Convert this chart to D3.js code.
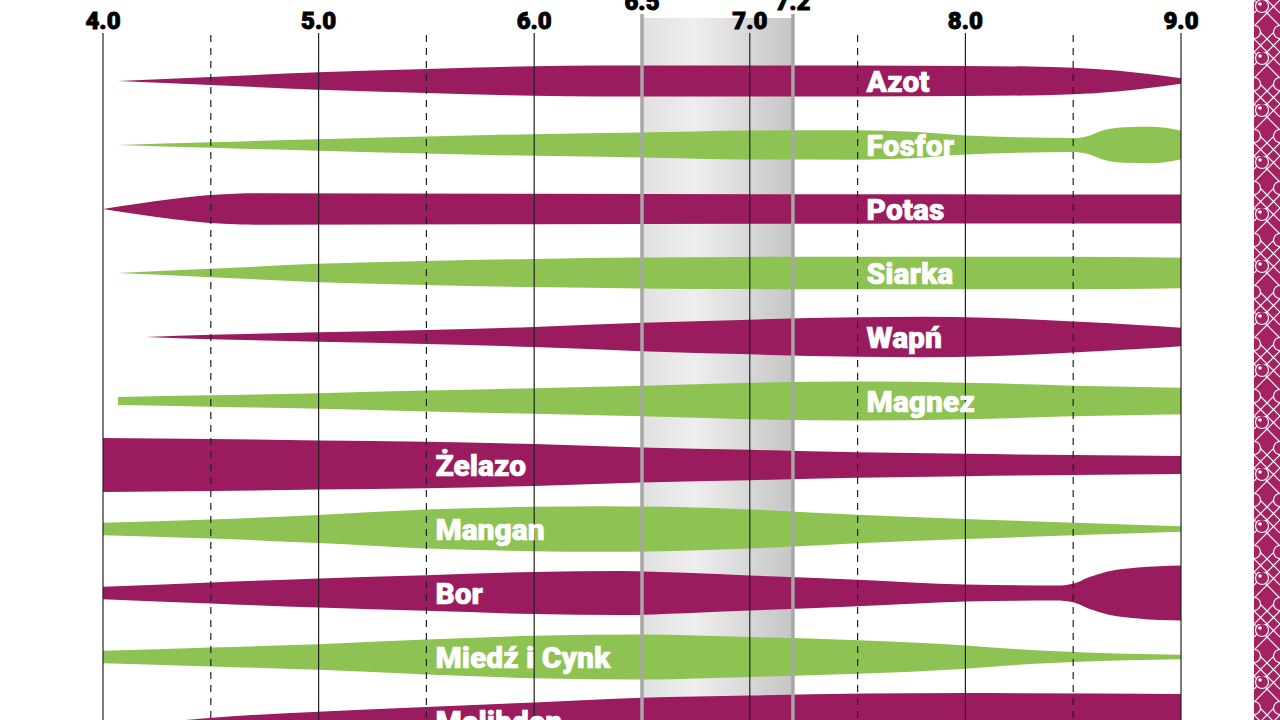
<!DOCTYPE html>
<html>
<head>
<meta charset="utf-8">
<script src="https://cdn.jsdelivr.net/npm/d3@7"></script>
<style>
  body { margin: 0; background: #fff; overflow: hidden; }
  text { font-family: Roboto, "Open Sans", sans-serif; font-weight: 900; }
</style>
</head>
<body>
<div id="chart"></div>
<script>
/* CONSTANTS AND GLOBALS */
const width = 1280,
  height = 720,
  purple = "#9a1c5e",
  green = "#8ec252";

/* DATA */
// pH ticks along the top
const phTicks = [4, 5, 6, 7, 8, 9];
const phHalfTicks = [4.5, 5.5, 7.5, 8.5];
const optimumRange = [6.5, 7.2];

const nutrients = ["Azot", "Fosfor", "Potas", "Siarka", "Wapń", "Magnez",
  "Żelazo", "Mangan", "Bor", "Miedź i Cynk", "Molibden"];
// where each label sits (pH)
const labelAt = [7.5, 7.5, 7.5, 7.5, 7.5, 7.5, 5.5, 5.5, 5.5, 5.5, 5.5];

// availability profiles: [pH, relative availability]
const azot = [[4.07, 0], [4.5, 0.26], [5.0, 0.56], [5.5, 0.77], [6.0, 0.95], [6.3, 1.0],
  [7.5, 1.0], [8.0, 0.97], [8.3, 0.93], [8.5, 0.86], [8.7, 0.68], [8.85, 0.45], [9.0, 0.18]];
const fosfor = [[4.07, 0], [4.5, 0.18], [5.0, 0.37], [5.5, 0.55], [6.0, 0.7], [6.5, 0.8],
  [7.0, 0.94], [7.5, 0.95], [7.75, 0.86], [8.0, 0.62], [8.25, 0.5], [8.5, 0.45],
  [8.56, 0.55], [8.64, 0.95], [8.74, 1.15], [8.87, 1.17], [8.96, 1.03], [9.0, 0.92]];
const potas = [[4.0, 0], [4.64, 1.0], [4.7, 1.01], [6.0, 0.98], [7.5, 0.95], [9.0, 0.93]];
const siarka = [[4.07, 0], [4.5, 0.27], [5.0, 0.59], [5.5, 0.77], [6.0, 0.91], [6.5, 1.0],
  [7.0, 1.04], [8.0, 1.05], [8.7, 1.03], [9.0, 0.98]];
const wapn = [[4.2, 0], [4.5, 0.14], [5.0, 0.3], [5.5, 0.45], [6.0, 0.65], [6.5, 0.92],
  [7.0, 1.12], [7.5, 1.27], [7.8, 1.3], [8.1, 1.24], [8.5, 1.0], [8.8, 0.78], [9.0, 0.6]];
const magnez = [[4.07, 0.26], [4.5, 0.37], [5.0, 0.5], [5.5, 0.67], [6.0, 0.83], [6.5, 0.98],
  [7.0, 1.17], [7.5, 1.26], [8.0, 1.18], [8.5, 0.99], [9.0, 0.86]];
const zelazo = [[4.0, 1.74], [4.5, 1.68], [5.0, 1.58], [5.5, 1.5], [6.0, 1.35], [6.5, 1.13],
  [7.0, 0.98], [7.5, 0.82], [8.0, 0.72], [8.5, 0.64], [9.0, 0.58]];
const mangan = [[4.0, 0.4], [4.5, 0.61], [5.0, 0.91], [5.5, 1.26], [6.0, 1.43], [6.3, 1.47],
  [6.6, 1.43], [7.0, 1.26], [7.5, 0.92], [8.0, 0.65], [8.5, 0.4], [9.0, 0.18]];
const bor = [[4.0, 0.4], [4.5, 0.68], [5.0, 0.94], [5.5, 1.15], [6.0, 1.36], [6.4, 1.42],
  [6.7, 1.3], [7.0, 1.13], [7.5, 0.86], [8.0, 0.55], [8.42, 0.48], [8.5, 0.6],
  [8.57, 1.0], [8.66, 1.38], [8.8, 1.64], [9.0, 1.78]];
const miedzCynk = [[4.0, 0.4], [4.5, 0.61], [5.0, 0.83], [5.5, 1.13], [6.0, 1.37], [6.5, 1.45],
  [7.0, 1.29], [7.5, 1.08], [8.0, 0.75], [8.3, 0.45], [8.5, 0.32], [9.0, 0.15]];
const molibden = [[4.33, 0], [4.6, 0.3], [5.0, 0.6], [5.5, 0.9], [6.0, 1.2], [6.5, 1.5],
  [7.0, 1.65], [8.0, 1.8], [9.0, 1.75]];

const profiles = [azot, fosfor, potas, siarka, wapn, magnez, zelazo, mangan, bor, miedzCynk, molibden];

/* SCALES */
const xScale = d3.scaleLinear().domain([4, 9]).range([103, 1181]);
const yScale = d3.scalePoint().domain(nutrients).range([81, 721]);
const wScale = d3.scaleLinear().domain([0, 1]).range([0, 15.5]);

const svg = d3.select("#chart")
  .append("svg")
  .attr("width", width)
  .attr("height", height);

const defs = svg.append("defs");

// gray optimum band gradient
const grad = defs.append("linearGradient").attr("id", "optGrad");
grad.append("stop").attr("offset", "0%").attr("stop-color", "#e0e0e0");
grad.append("stop").attr("offset", "35%").attr("stop-color", "#eeeeee");
grad.append("stop").attr("offset", "100%").attr("stop-color", "#c5c5c5");

// decorative lattice on the right edge
const pat = defs.append("pattern")
  .attr("id", "lattice")
  .attr("patternUnits", "userSpaceOnUse")
  .attr("x", 1254).attr("y", 0)
  .attr("width", 26).attr("height", 52);
pat.append("rect").attr("width", 26).attr("height", 52).attr("fill", "#a52262");
pat.append("path")
  .attr("d", "M0,0L26,26L0,52M26,0L0,26L26,52M13,0L26,13M0,13L13,0M0,39L13,52M26,39L13,52")
  .attr("stroke", "#fff").attr("stroke-width", 1.2).attr("fill", "none");
pat.append("circle").attr("cx", 8).attr("cy", 6).attr("r", 6.5)
  .attr("fill", "#a52262").attr("stroke", "#fff").attr("stroke-width", 1.2);
pat.append("circle").attr("cx", 6).attr("cy", 4).attr("r", 1.8).attr("fill", "#fff");
pat.append("circle").attr("cx", 26).attr("cy", 32).attr("r", 6.5)
  .attr("fill", "#a52262").attr("stroke", "#fff").attr("stroke-width", 1.2);
pat.append("circle").attr("cx", 0).attr("cy", 32).attr("r", 6.5)
  .attr("fill", "#a52262").attr("stroke", "#fff").attr("stroke-width", 1.2);

svg.append("rect")
  .attr("x", 1254).attr("y", 0)
  .attr("width", 26).attr("height", height)
  .attr("fill", "url(#lattice)");

// + OPTIMUM BAND (behind the shapes)
svg.append("rect")
  .attr("x", xScale(optimumRange[0]))
  .attr("y", 18)
  .attr("width", xScale(optimumRange[1]) - xScale(optimumRange[0]))
  .attr("height", height - 18)
  .attr("fill", "url(#optGrad)");

// + NUTRIENT SHAPES
const areaFor = name => d3.area()
  .curve(d3.curveMonotoneX)
  .x(d => xScale(d[0]))
  .y0(d => yScale(name) - wScale(d[1]))
  .y1(d => yScale(name) + wScale(d[1]));

svg.selectAll("path.nutrient")
  .data(nutrients)
  .join("path")
  .attr("class", "nutrient")
  .attr("fill", (d, i) => i % 2 === 0 ? purple : green)
  .attr("d", (d, i) => areaFor(d)(profiles[i]));

// + GRID LINES (on top of shapes)
svg.selectAll("line.grid")
  .data(phTicks)
  .join("line")
  .attr("class", "grid")
  .attr("x1", d => xScale(d)).attr("x2", d => xScale(d))
  .attr("y1", 33).attr("y2", height)
  .attr("stroke", "#222")
  .attr("stroke-width", 1.2);

svg.selectAll("line.half")
  .data(phHalfTicks)
  .join("line")
  .attr("class", "half")
  .attr("x1", d => xScale(d)).attr("x2", d => xScale(d))
  .attr("y1", 35).attr("y2", height)
  .attr("stroke", "#222")
  .attr("stroke-width", 1.2)
  .attr("stroke-dasharray", "7,6");

svg.selectAll("line.opt")
  .data(optimumRange)
  .join("line")
  .attr("class", "opt")
  .attr("x1", d => xScale(d)).attr("x2", d => xScale(d))
  .attr("y1", 14).attr("y2", height)
  .attr("stroke", "#a7a7a7")
  .attr("stroke-width", 3.5);

// + TICK LABELS
const fmt = d3.format(".1f");
svg.selectAll("text.tick")
  .data(phTicks)
  .join("text")
  .attr("class", "tick")
  .attr("x", d => xScale(d))
  .attr("y", 29)
  .attr("text-anchor", "middle")
  .attr("font-size", 24)
  .attr("fill", "#000")
  .attr("stroke", "#000")
  .attr("stroke-width", 0.9)
  .text(d => fmt(d));

svg.selectAll("text.optTick")
  .data(optimumRange)
  .join("text")
  .attr("class", "optTick")
  .attr("x", d => xScale(d))
  .attr("y", 10)
  .attr("text-anchor", "middle")
  .attr("font-size", 24)
  .attr("fill", "#000")
  .attr("stroke", "#000")
  .attr("stroke-width", 0.9)
  .text(d => fmt(d));

// + NUTRIENT LABELS
svg.selectAll("text.label")
  .data(nutrients)
  .join("text")
  .attr("class", "label")
  .attr("x", (d, i) => xScale(labelAt[i]) + 9)
  .attr("y", d => yScale(d) + 11)
  .attr("font-size", 30)
  .attr("fill", "#fff")
  .attr("stroke", "#fff")
  .attr("stroke-width", 0.6)
  .text(d => d);
</script>
</body>
</html>
